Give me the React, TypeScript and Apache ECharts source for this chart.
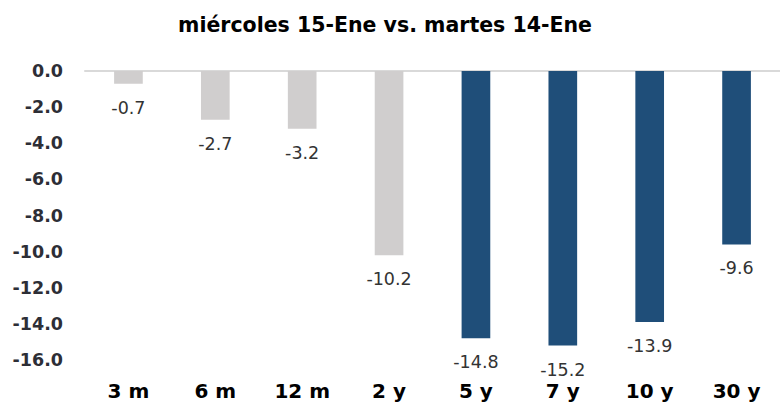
import React, { useEffect, useRef } from "react";
import * as echarts from "echarts";

const categories = ["3 m", "6 m", "12 m", "2 y", "5 y", "7 y", "10 y", "30 y"];
const values = [-0.7, -2.7, -3.2, -10.2, -14.8, -15.2, -13.9, -9.6];
const barColors = ["#d0cece", "#d0cece", "#d0cece", "#d0cece", "#1f4e79", "#1f4e79", "#1f4e79", "#1f4e79"];
const titleText = "miércoles 15-Ene vs. martes 14-Ene";

export default function App() {
  const ref = useRef<HTMLDivElement>(null);
  useEffect(() => {
    if (!ref.current) return;
    const chart = echarts.init(ref.current, undefined, { renderer: "svg" });
    const font = "DejaVu Sans";
    chart.setOption({
      animation: false,
      title: {
        text: titleText,
        left: 380,
        textAlign: "center",
        top: 9,
        textStyle: { fontFamily: font, fontSize: 20.5, fontWeight: "bold", color: "#000" },
      },
      grid: { left: 85, top: 71, width: 699, height: 289, containLabel: false },
      xAxis: [
        {
          type: "category",
          data: categories,
          position: "bottom",
          axisLine: { show: false, onZero: false },
          axisTick: { show: false },
          axisLabel: {
            margin: 21,
            fontFamily: font,
            fontSize: 20,
            fontWeight: "bold",
            color: "#000",
          },
        },
        {
          type: "category",
          data: categories,
          position: "top",
          axisLine: { show: true, onZero: false, lineStyle: { color: "#d9d9d9", width: 2 } },
          axisTick: { show: false },
          axisLabel: { show: false },
        },
      ],
      yAxis: {
        type: "value",
        min: -16,
        max: 0,
        interval: 2,
        axisLine: { show: false },
        axisTick: { show: false },
        splitLine: { show: false },
        axisLabel: {
          margin: 22,
          fontFamily: font,
          fontSize: 17.5,
          fontWeight: "bold",
          color: "#2d2e36",
          formatter: (v: number) => v.toFixed(1),
        },
      },
      series: [
        {
          type: "bar",
          xAxisIndex: 0,
          data: values.map((v, i) => ({ value: v, itemStyle: { color: barColors[i] } })),
          barWidth: "33%",
          label: {
            show: true,
            position: "bottom",
            distance: 15,
            fontFamily: font,
            fontSize: 17.5,
            color: "#333",
            formatter: (p: any) => Number(p.value).toFixed(1),
          },
        },
      ],
    });
    return () => chart.dispose();
  }, []);
  return <div ref={ref} style={{ width: 780, height: 405, position: "absolute", left: 0, top: 0 }} />;
}
